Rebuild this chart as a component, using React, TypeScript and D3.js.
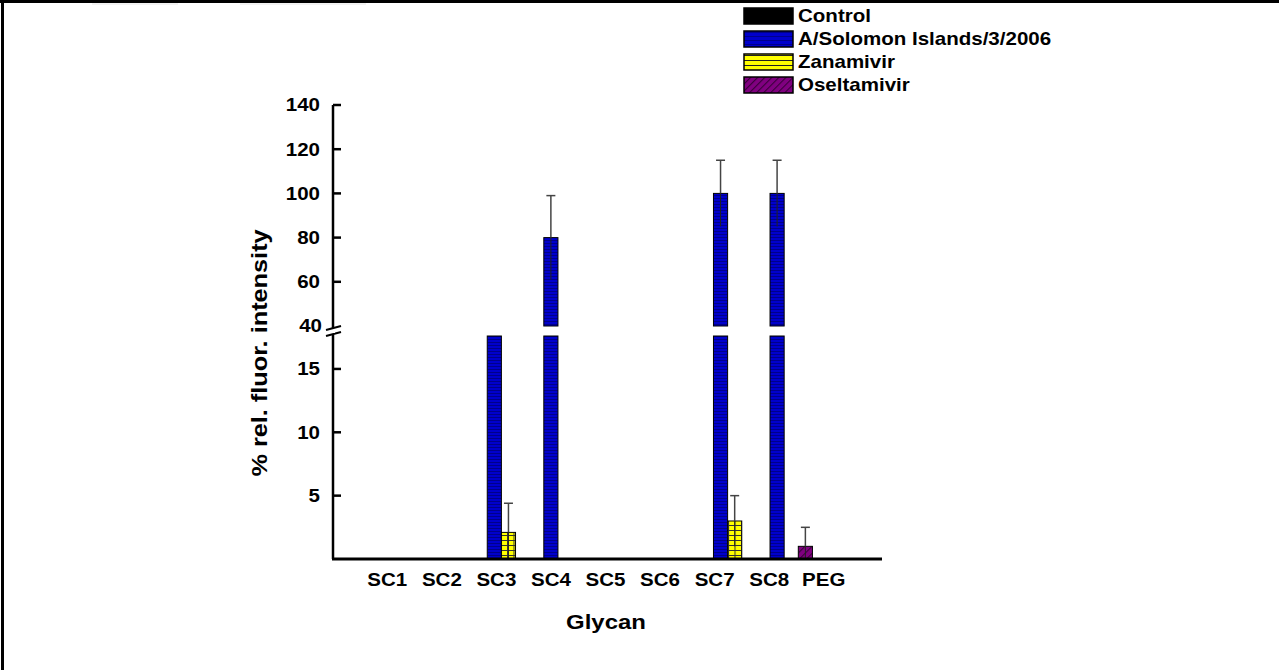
import React from "react";
import * as d3 from "d3";

const categories = ["SC1", "SC2", "SC3", "SC4", "SC5", "SC6", "SC7", "SC8", "PEG"];
const seriesNames = ["Control", "A/Solomon Islands/3/2006", "Zanamivir", "Oseltamivir"];
const controlValues = [0, 0, 0, 0, 0, 0, 0, 0, 0];
const solomonValues = [0, 0, 25, 80, 0, 0, 100, 100, 0];
const solomonErrors = [0, 0, 0, 19, 0, 0, 15, 15, 0];
const zanamivirValues = [0, 0, 2.1, 0, 0, 0, 3.0, 0, 0];
const zanamivirErrors = [0, 0, 2.3, 0, 0, 0, 2.0, 0, 0];
const oseltamivirValues = [0, 0, 0, 0, 0, 0, 0, 1.0, 0];
const oseltamivirErrors = [0, 0, 0, 0, 0, 0, 0, 1.5, 0];
const upperTicks = [40, 60, 80, 100, 120, 140];
const lowerTicks = [5, 10, 15];

const W = 1279;
const H = 670;
const axisX = 333;
const axisEnd = 882;
const baseY = 559;
const lowerTopVal = 17.6;

const x = d3.scaleBand<string>().domain(categories).range([360, 869]).padding(0);
const xLab = d3.scaleBand<string>().domain(categories).range([360, 851]).padding(0);
const xs = d3.scaleBand<string>().domain(seriesNames).range([0, x.bandwidth()]).padding(0);
const yU = d3.scaleLinear().domain([40, 140]).range([326, 105]);
const yL = d3.scaleLinear().domain([0, lowerTopVal]).range([baseY, 336]);

const series = [
  { name: seriesNames[0], values: controlValues, errors: controlValues, fill: "#000" },
  { name: seriesNames[1], values: solomonValues, errors: solomonErrors, fill: "url(#pBlue)" },
  { name: seriesNames[2], values: zanamivirValues, errors: zanamivirErrors, fill: "url(#pYellowGrid)" },
  { name: seriesNames[3], values: oseltamivirValues, errors: oseltamivirErrors, fill: "url(#pPurple)" },
];
const legendFills = ["#000", "url(#pBlueL)", "url(#pYellowL)", "url(#pPurple)"];

function yOf(v: number): number | null {
  if (v <= lowerTopVal) return yL(v);
  if (v >= 40) return yU(v);
  return null;
}

const font = "'Liberation Sans', Arial, sans-serif";
const SX = 1.14;

function HText(props: { x: number; y: number; size: number; anchor?: string; children: React.ReactNode }) {
  return (
    <text
      transform={`translate(${props.x},${props.y}) scale(${SX},1)`}
      dy="0.36em"
      textAnchor={props.anchor || "start"}
      fontSize={props.size}
      fontWeight="bold"
    >
      {props.children}
    </text>
  );
}

export default function App() {
  const bars: React.ReactNode[] = [];
  const errs: React.ReactNode[] = [];
  series.forEach((s, si) => {
    categories.forEach((c, ci) => {
      const v = s.values[ci];
      if (v <= 0) return;
      const bx = (x(c) as number) + (xs(s.name) as number);
      const bw = xs.bandwidth();
      if (v <= lowerTopVal) {
        bars.push(<rect key={`b${si}-${ci}`} x={bx} y={yL(v)} width={bw} height={baseY - yL(v)} fill={s.fill} stroke="#000" strokeWidth={1} />);
      } else {
        bars.push(<rect key={`b${si}-${ci}`} x={bx} y={yL(lowerTopVal)} width={bw} height={baseY - yL(lowerTopVal)} fill={s.fill} stroke="#000" strokeWidth={1} />);
        if (v > 40) {
          bars.push(<rect key={`u${si}-${ci}`} x={bx} y={yU(v)} width={bw} height={yU(40) - yU(v)} fill={s.fill} stroke="#000" strokeWidth={1} />);
        }
      }
      const e = s.errors[ci];
      if (e > 0) {
        const cx = bx + bw / 2;
        const top = yOf(v + e);
        const mid = yOf(v);
        const lowV = Math.max(0, v - e);
        const low = yOf(lowV);
        if (top !== null && mid !== null) {
          errs.push(
            <g key={`e${si}-${ci}`} stroke="#444" strokeWidth={1.5}>
              <line x1={cx} x2={cx} y1={top} y2={mid} />
              <line x1={cx - 4.5} x2={cx + 4.5} y1={top} y2={top} />
              {low !== null && <line x1={cx} x2={cx} y1={mid} y2={low} stroke="#222" strokeWidth={1} />}
            </g>
          );
        }
      }
    });
  });

  return (
    <svg width={W} height={H} style={{ position: "absolute", left: 0, top: 0, background: "#fff" }} fontFamily={font}>
      <defs>
        <pattern id="pBlue" patternUnits="userSpaceOnUse" width={6} height={3}>
          <rect width={6} height={3} fill="#0000cc" />
          <line x1={0} x2={6} y1={0.5} y2={0.5} stroke="#00007a" strokeWidth={0.8} />
        </pattern>
        <pattern id="pBlueL" patternUnits="userSpaceOnUse" width={6} height={4}>
          <rect width={6} height={4} fill="#0000cc" />
          <line x1={0} x2={6} y1={0.5} y2={0.5} stroke="#00007a" strokeWidth={0.8} />
        </pattern>
        <pattern id="pYellowGrid" patternUnits="userSpaceOnUse" width={6.5} height={5} x={0} y={0}>
          <rect width={6.5} height={5} fill="#ffff00" />
          <path d="M0,0.5H6.5M0.5,0V5" stroke="#333" strokeWidth={1} />
        </pattern>
        <pattern id="pYellowL" patternUnits="userSpaceOnUse" width={6} height={5}>
          <rect width={6} height={5} fill="#ffff00" />
          <line x1={0} x2={6} y1={0.5} y2={0.5} stroke="#222" strokeWidth={1} />
        </pattern>
        <pattern id="pPurple" patternUnits="userSpaceOnUse" width={5} height={5} patternTransform="rotate(-45)">
          <rect width={5} height={5} fill="#800080" />
          <line x1={0} x2={5} y1={0.5} y2={0.5} stroke="#3a003a" strokeWidth={1.2} />
        </pattern>
      </defs>

      {/* frame */}
      <line x1={0} x2={W} y1={1.5} y2={1.5} stroke="#000" strokeWidth={3} />
      <line x1={2.5} x2={2.5} y1={0} y2={H} stroke="#000" strokeWidth={3} />
      <line x1={92} x2={178} y1={4} y2={4} stroke="#eee" strokeWidth={1.5} />
      <line x1={240} x2={366} y1={4} y2={4} stroke="#eee" strokeWidth={1.5} />

      {bars}
      {errs}

      {/* y axis upper */}
      <line x1={axisX} x2={axisX} y1={yU(140)} y2={yU(40) + 2} stroke="#000" strokeWidth={2.5} />
      {upperTicks.map((t) => (
        <g key={`ut${t}`}>
          {t !== 40 && <line x1={axisX} x2={axisX + 8} y1={yU(t)} y2={yU(t)} stroke="#000" strokeWidth={2.5} />}
          <HText x={t === 40 ? 322 : 320} y={yU(t)} size={18} anchor="end">{t}</HText>
        </g>
      ))}
      {/* y axis lower */}
      <line x1={axisX} x2={axisX} y1={yL(lowerTopVal) - 1} y2={baseY} stroke="#000" strokeWidth={2.5} />
      {lowerTicks.map((t) => (
        <g key={`lt${t}`}>
          <line x1={axisX} x2={axisX + 8} y1={yL(t)} y2={yL(t)} stroke="#000" strokeWidth={2.5} />
          <HText x={320} y={yL(t)} size={18} anchor="end">{t}</HText>
        </g>
      ))}
      {/* break marks */}
      <line x1={326} x2={341} y1={330} y2={326} stroke="#000" strokeWidth={2} />
      <line x1={326} x2={341} y1={336} y2={332} stroke="#000" strokeWidth={2} />
      <rect x={331} y={330.5} width={4} height={2.5} fill="#fff" />

      {/* x axis */}
      <line x1={axisX - 1} x2={axisEnd} y1={baseY} y2={baseY} stroke="#000" strokeWidth={3} />
      {categories.map((c) => (
        <HText key={c} x={(xLab(c) as number) + xLab.bandwidth() / 2} y={580} size={18} anchor="middle">{c}</HText>
      ))}
      <HText x={606} y={621} size={21} anchor="middle">Glycan</HText>
      <text transform={`translate(259,353) rotate(-90) scale(1.15,1)`} textAnchor="middle" dy="0.36em" fontSize={22} fontWeight="bold">% rel. fluor. intensity</text>

      {/* legend */}
      {seriesNames.map((n, i) => {
        const cy = 16 + i * 23;
        return (
          <g key={n}>
            <rect x={744} y={cy - 8} width={49} height={16} fill={legendFills[i]} stroke="#000" strokeWidth={1.5} />
            <HText x={798} y={cy} size={18}>{n}</HText>
          </g>
        );
      })}
    </svg>
  );
}
